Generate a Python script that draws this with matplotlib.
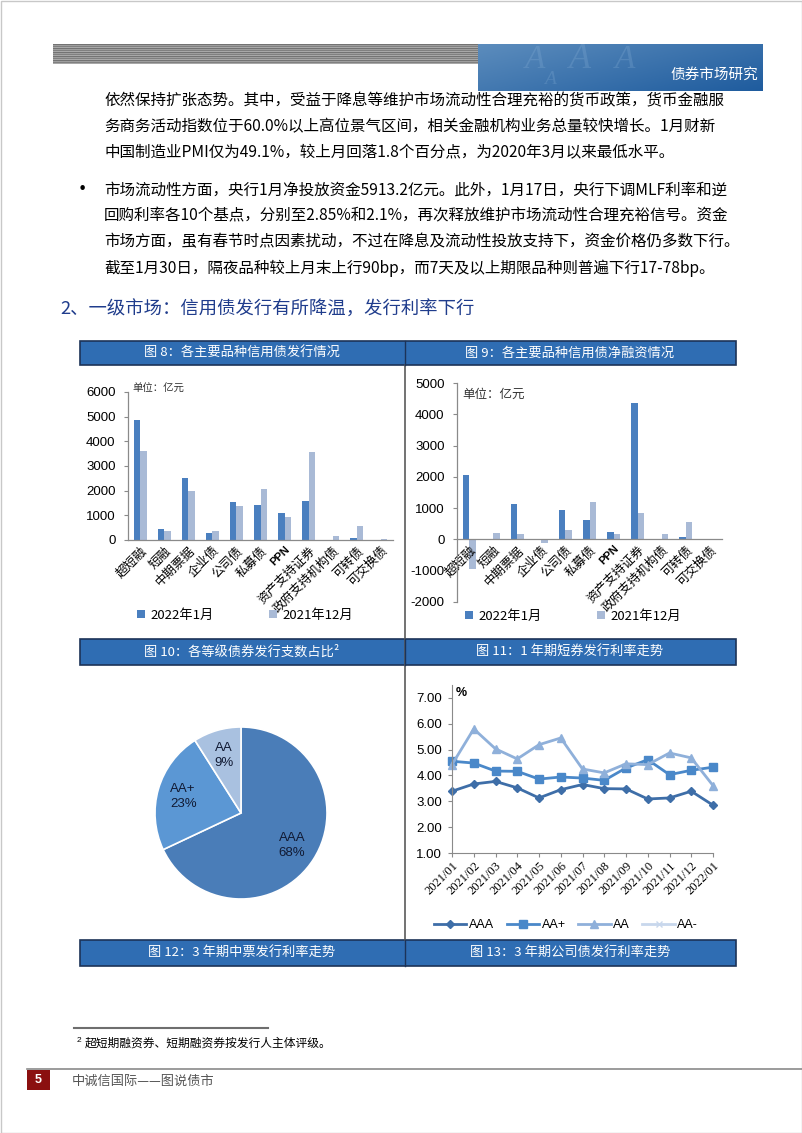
import numpy as np
import matplotlib.pyplot as plt
from matplotlib.patches import Rectangle

plt.rcParams['font.family'] = ['Noto Sans CJK SC', 'DejaVu Sans']
plt.rcParams['axes.unicode_minus'] = False

W, H = 802, 1133
NUM = ['Liberation Sans', 'DejaVu Sans']
CJK = ['Noto Sans CJK SC', 'DejaVu Sans']

# ---- data ----
categories = ['超短融', '短融', '中期票据', '企业债', '公司债', '私募债', 'PPN',
              '资产支持证券', '政府支持机构债', '可转债', '可交换债']
issue_2022_01 = [4870, 450, 2500, 300, 1530, 1420, 1090, 1585, 0, 90, 10]
issue_2021_12 = [3610, 365, 1990, 350, 1380, 2060, 920, 3550, 170, 570, 40]
net_2022_01 = [2060, 20, 1120, -10, 940, 620, 250, 4360, 0, 65, 10]
net_2021_12 = [-930, 195, 165, -120, 300, 1185, 180, 840, 175, 565, 15]
bar_series = ['2022年1月', '2021年12月']

grades = ['AAA', 'AA+', 'AA']
grade_share = [68, 23, 9]

months = ['2021/01', '2021/02', '2021/03', '2021/04', '2021/05', '2021/06', '2021/07',
          '2021/08', '2021/09', '2021/10', '2021/11', '2021/12', '2022/01']
rate_aaa = [3.39, 3.67, 3.77, 3.52, 3.13, 3.45, 3.65, 3.49, 3.48, 3.09, 3.13, 3.39, 2.85]
rate_aa_plus = [4.55, 4.48, 4.17, 4.16, 3.86, 3.94, 3.90, 3.81, 4.29, 4.61, 4.03, 4.20, 4.32]
rate_aa = [4.42, 5.80, 5.03, 4.64, 5.19, 5.45, 4.25, 4.10, 4.45, 4.42, 4.87, 4.68, 3.61]
rate_aa_minus = [np.nan] * 13

para1 = ['依然保持扩张态势。其中，受益于降息等维护市场流动性合理充裕的货币政策，货币金融服',
         '务商务活动指数位于60.0%以上高位景气区间，相关金融机构业务总量较快增长。1月财新',
         '中国制造业PMI仅为49.1%，较上月回落1.8个百分点，为2020年3月以来最低水平。']
para2 = ['市场流动性方面，央行1月净投放资金5913.2亿元。此外，1月17日，央行下调MLF利率和逆',
         '回购利率各10个基点，分别至2.85%和2.1%，再次释放维护市场流动性合理充裕信号。资金',
         '市场方面，虽有春节时点因素扰动，不过在降息及流动性投放支持下，资金价格仍多数下行。',
         '截至1月30日，隔夜品种较上月末上行90bp，而7天及以上期限品种则普遍下行17-78bp。']

fig = plt.figure(figsize=(W / 100, H / 100), dpi=100)
fig.patch.set_facecolor('white')


def px_axes(x0, y0, x1, y1):
    return fig.add_axes([x0 / W, 1 - y1 / H, (x1 - x0) / W, (y1 - y0) / H])


# background layer in pixel coordinates
bg = fig.add_axes([0, 0, 1, 1])
bg.set_xlim(0, W)
bg.set_ylim(H, 0)
bg.axis('off')

# page frame
bg.add_patch(Rectangle((0.5, 0.5), W - 1, H - 1, fill=False, ec='#c8c8c8', lw=1))

# header: grey stripes + blue picture
stripes = np.tile(np.array([0.45, 0.62, 0.5, 0.66])[:, None], (5, 1))
bg.imshow(stripes, cmap='gray', vmin=0, vmax=1, extent=(53, 478, 64, 44), aspect='auto',
          interpolation='nearest', zorder=1)
gx = np.linspace(0, 1, 200)[None, :]
gy = np.linspace(0, 1, 50)[:, None]
c0 = np.array([0.36, 0.55, 0.74])
c1 = np.array([0.12, 0.36, 0.62])
t = np.clip(0.6 * gx + 0.4 * gy, 0, 1)[..., None]
blue = c0 * (1 - t) + c1 * t
bg.imshow(blue, extent=(478, 763, 91, 44), aspect='auto', zorder=1)
for xx, yy, s in [(535, 60, 24), (580, 60, 26), (625, 60, 24), (550, 80, 14)]:
    bg.text(xx, yy, 'A', color='#8db4d9', alpha=0.25, fontsize=s, style='italic',
            family='Liberation Serif', ha='center', va='center', zorder=2)
bg.text(758, 75, '债券市场研究', color='white', fontsize=10.5, ha='right', va='center',
        family=CJK, zorder=3)

# body text
for i, line in enumerate(para1):
    bg.text(104, 101 + 26 * i, line, fontsize=11.2, va='center', ha='left', family=CJK)
bg.text(78, 190, '•', fontsize=11.2, va='center', ha='left', family=['DejaVu Sans'])
for i, line in enumerate(para2):
    bg.text(104, 190 + 26 * i, line, fontsize=11.2, va='center', ha='left', family=CJK)

bg.text(60, 310, '2、一级市场：信用债发行有所降温，发行利率下行', fontsize=13.2,
        color='#1f3c8c', va='center', ha='left', family=CJK)

# table header bars
bar_blue = '#2f6db3'
for (y0, y1) in [(341, 365), (639, 665), (940, 966)]:
    bg.add_patch(Rectangle((80, y0), 656, y1 - y0, fc=bar_blue, ec='#1c3358', lw=1.2, zorder=2))
    bg.plot([404.5, 404.5], [y0, y1], color='#1c3358', lw=1, zorder=3)
bg.plot([404.5, 404.5], [365, 940], color='#5a5a5a', lw=1.2, zorder=2)

titles = [(242, 353, '图 8：各主要品种信用债发行情况'),
          (570, 353, '图 9：各主要品种信用债净融资情况'),
          (242, 652, '图 10：各等级债券发行支数占比²'),
          (570, 652, '图 11：1 年期短券发行利率走势'),
          (242, 953, '图 12：3 年期中票发行利率走势'),
          (570, 953, '图 13：3 年期公司债发行利率走势')]
for xx, yy, s in titles:
    bg.text(xx, yy, s, color='white', fontsize=9.5, ha='center', va='center',
            family=CJK, zorder=4)

dark_bar = '#4a7fbf'
light_bar = '#a9bad6'
axis_grey = '#8a8a8a'
w = 0.27
x = np.arange(len(categories))


def style_bar_axes(ax):
    for s in ['top', 'right']:
        ax.spines[s].set_visible(False)
    for s in ['left', 'bottom']:
        ax.spines[s].set_color(axis_grey)
        ax.spines[s].set_linewidth(0.9)
    ax.tick_params(axis='y', length=3, color=axis_grey, pad=6, labelsize=9.5)
    ax.tick_params(axis='x', length=0, pad=3)
    for lbl in ax.get_yticklabels():
        lbl.set_family(NUM)
    ax.set_xticks(x)
    ax.set_xticklabels(categories, rotation=45, ha='right', rotation_mode='anchor',
                       fontsize=9, family=CJK)
    for lbl in ax.get_xticklabels():
        if lbl.get_text() == 'PPN':
            lbl.set_family(NUM)
            lbl.set_weight('bold')
            lbl.set_fontsize(8)
    ax.set_xlim(-0.5, len(categories) - 0.5)
    ax.patch.set_alpha(0)


# figure 8
ax8 = px_axes(128, 392, 393, 540)
h1 = ax8.bar(x - w / 2, issue_2022_01, w, color=dark_bar, label=bar_series[0])
h2 = ax8.bar(x + w / 2, issue_2021_12, w, color=light_bar, label=bar_series[1])
ax8.set_ylim(0, 6000)
ax8.set_yticks(range(0, 6001, 1000))
style_bar_axes(ax8)
bg.text(132, 389, '单位：亿元', fontsize=7.5, va='center', ha='left', family=CJK, color='#333333')
fig.legend([h1, h2], bar_series, loc='center', bbox_to_anchor=(245 / W, 1 - 615 / H),
           ncol=2, frameon=False, handlelength=0.6, handleheight=0.6, handletextpad=0.4,
           columnspacing=4.2, prop={'family': CJK, 'size': 9.5})

# figure 9
ax9 = px_axes(457, 383, 722, 602)
g1 = ax9.bar(x - w / 2, net_2022_01, w, color=dark_bar, label=bar_series[0])
g2 = ax9.bar(x + w / 2, net_2021_12, w, color=light_bar, label=bar_series[1])
ax9.set_ylim(-2000, 5000)
ax9.spines['bottom'].set_position(('data', 0))
ax9.set_yticks(range(-2000, 5001, 1000))
style_bar_axes(ax9)
bg.text(462, 394, '单位：亿元', fontsize=9, va='center', ha='left', family=CJK, color='#333333')
fig.legend([g1, g2], bar_series, loc='center', bbox_to_anchor=(573 / W, 1 - 616 / H),
           ncol=2, frameon=False, handlelength=0.6, handleheight=0.6, handletextpad=0.4,
           columnspacing=4.2, prop={'family': CJK, 'size': 9.5})

# figure 10: pie
axp = px_axes(155, 727, 327, 899)
pie_colors = ['#4a7db8', '#5b97d4', '#a9c1e0']
wedges, _ = axp.pie(grade_share, colors=pie_colors, startangle=90, counterclock=False,
                    wedgeprops=dict(edgecolor='white', linewidth=1.2))
axp.set_xlim(-1, 1)
axp.set_ylim(-1, 1)
axp.set_aspect('equal')
for wd, g, v in zip(wedges, grades, grade_share):
    ang = np.deg2rad((wd.theta1 + wd.theta2) / 2)
    r = 0.7
    axp.text(r * np.cos(ang), r * np.sin(ang), f'{g}\n{v}%', ha='center', va='center',
             fontsize=9.5, family=NUM, color='#111a33', linespacing=1.3)

# figure 11: lines
axl = px_axes(452, 685, 713, 853)
xi = np.arange(len(months))
line_specs = [('AAA', rate_aaa, '#3e6ea8', 'D', 4),
              ('AA+', rate_aa_plus, '#4a88c9', 's', 6),
              ('AA', rate_aa, '#8fb0da', '^', 6),
              ('AA-', rate_aa_minus, '#c8d7ec', 'x', 5)]
handles = []
for name, vals, col, mk, ms in line_specs:
    hl, = axl.plot(xi, vals, color=col, marker=mk, markersize=ms, lw=2, clip_on=False,
                   label=name)
    handles.append(hl)
axl.set_xlim(0, len(months) - 1)
axl.set_ylim(1, 7.5)
axl.set_yticks(np.arange(1, 8, 1))
axl.set_yticklabels([f'{v:.2f}' for v in np.arange(1, 8, 1)], family=NUM, fontsize=9.5)
axl.set_xticks(xi)
axl.set_xticklabels(months, rotation=45, ha='right', rotation_mode='anchor', fontsize=9,
                    family=['Liberation Serif', 'DejaVu Serif'])
for s in ['top', 'right']:
    axl.spines[s].set_visible(False)
for s in ['left', 'bottom']:
    axl.spines[s].set_color(axis_grey)
axl.tick_params(axis='both', length=3, color=axis_grey)
axl.tick_params(axis='y', pad=4)
axl.tick_params(axis='x', pad=2)
axl.patch.set_alpha(0)
bg.text(456, 693, '%', fontsize=9, fontweight='bold', family=NUM, va='center', ha='left')
fig.legend(handles, [h.get_label() for h in handles], loc='center',
           bbox_to_anchor=(566 / W, 1 - 925 / H), ncol=4, frameon=False,
           handlelength=2.6, handletextpad=0.2, columnspacing=1.0,
           prop={'family': NUM, 'size': 9})

# footnote and footer
bg.plot([74, 268], [1028, 1028], color='#6e6e6e', lw=1.5)
bg.text(77, 1041, '2', fontsize=6, family=NUM, va='center', ha='left')
bg.text(85, 1043, '超短期融资券、短期融资券按发行人主体评级。', fontsize=8.5, family=CJK,
        va='center', ha='left')
bg.plot([27, W], [1068.5, 1068.5], color='#8a8a8a', lw=1.2)
bg.add_patch(Rectangle((27, 1070), 23, 20, fc='#8b1010', ec='none'))
bg.text(38.5, 1080, '5', color='white', fontsize=9, fontweight='bold', family=NUM,
        ha='center', va='center')
bg.text(72, 1081, '中诚信国际——图说债市', color='#555555', fontsize=9.5, family=CJK,
        va='center', ha='left')

fig.savefig('out.png', dpi=100)
